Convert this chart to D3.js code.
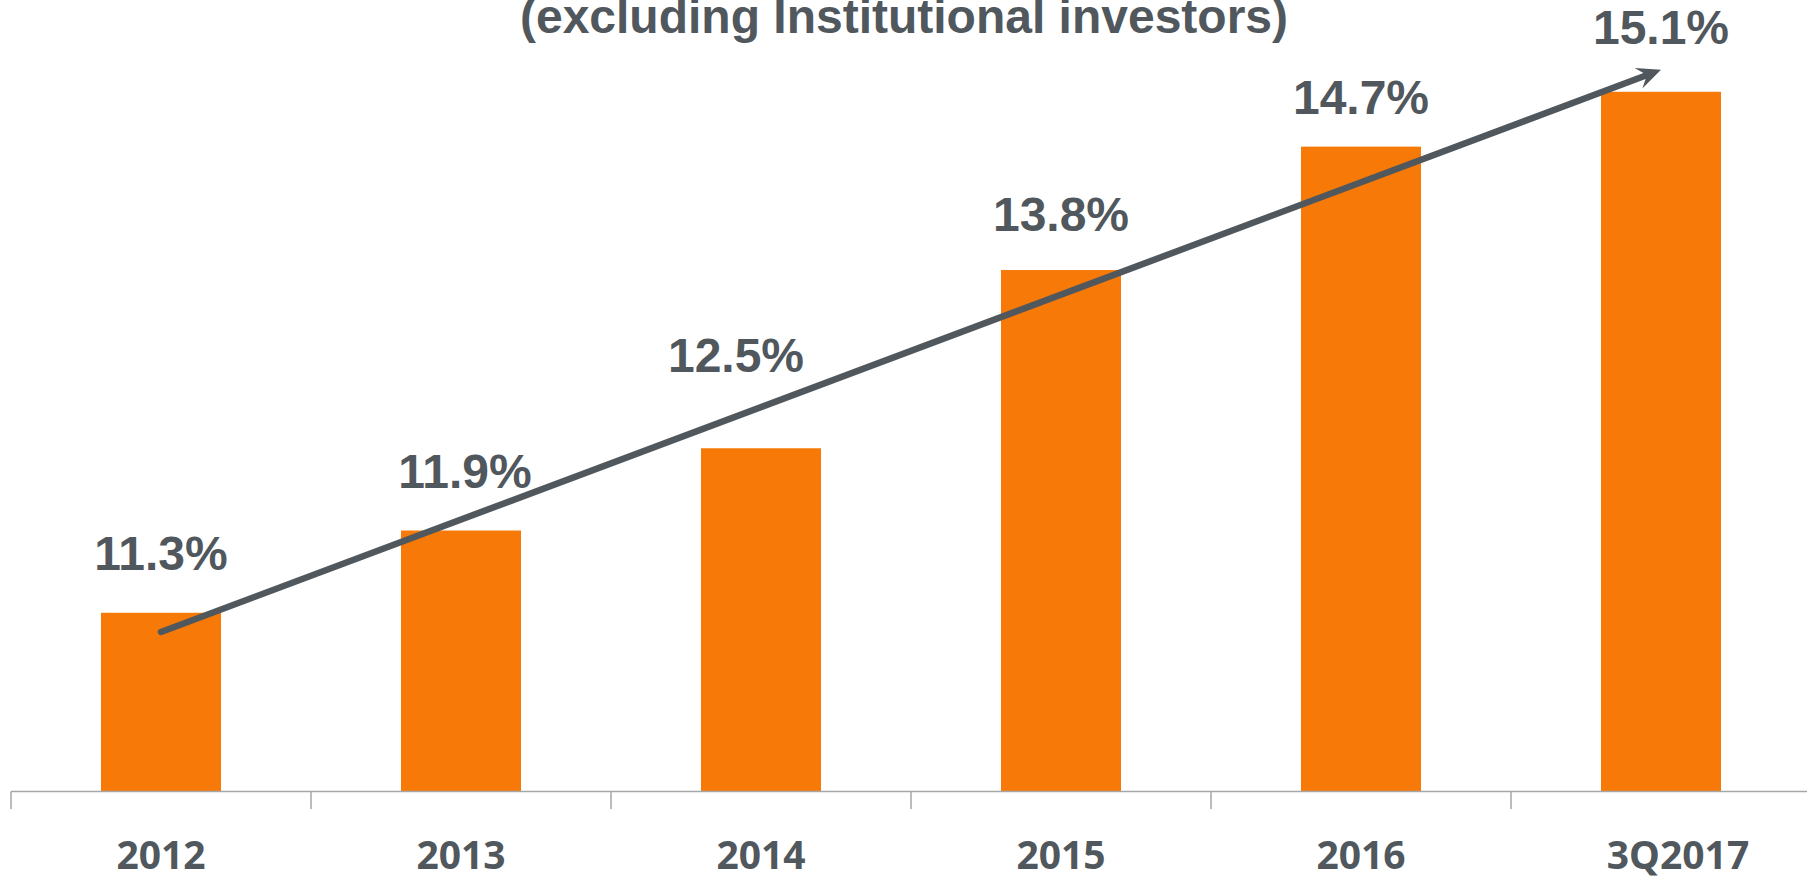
<!DOCTYPE html>
<html>
<head>
<meta charset="utf-8">
<script src="https://cdn.jsdelivr.net/npm/d3@7"></script>
<style>
  body { margin: 0; background: #fff; }
  .chart_svg { display: block; }
  .title { font-family: "Liberation Sans", Arial, sans-serif; font-weight: bold; fill: #50575d; }
  .value_label { font-family: "Liberation Sans", Arial, sans-serif; font-weight: bold; fill: #50575d; }
  .cat_label { font-family: "Noto Sans", "Open Sans", sans-serif; font-weight: bold; fill: #50575d; }
</style>
</head>
<body>
<div class="chart"></div>
<script>
// data
var categories = ["2012", "2013", "2014", "2015", "2016", "3Q2017"];
var shares = [11.3, 11.9, 12.5, 13.8, 14.7, 15.1];
var valueLabels = ["11.3%", "11.9%", "12.5%", "13.8%", "14.7%", "15.1%"];
var trend = [11.16, 15.26];   // arrow start (2012) and tip (3Q2017)
var titleText = "(excluding Institutional investors)";

// labels were placed by hand in the source: gap above bar and sideways nudge (px)
var labelGap = [43, 43, 76, 39, 33, 48];
var labelNudge = [0, 4, -25, 0, 0, 0];

var width = 1807, height = 876;
var orange = "#f77a08", grey = "#50575d";

var svg = d3.select(".chart").append("svg")
    .attr("class", "chart_svg")
    .attr("width", width)
    .attr("height", height);

var x = d3.scaleBand()
    .domain(categories)
    .range([11, 1811])
    .paddingInner(0.6)
    .paddingOuter(0.3);

var y = d3.scaleLinear()
    .domain([10, 16])
    .range([791, 791 - 6 * 137.1]);

var step = x.step();
function mid(c) { return x(c) + x.bandwidth() / 2; }

// bars
svg.append("g")
    .attr("class", "bars")
  .selectAll("rect")
  .data(categories)
  .enter().append("rect")
    .attr("x", function(d) { return x(d); })
    .attr("y", function(d, i) { return y(shares[i]); })
    .attr("width", x.bandwidth())
    .attr("height", function(d, i) { return y(10) - y(shares[i]); })
    .attr("fill", orange);

// category axis with ticks between the categories
var axis = svg.append("g").attr("class", "axis");
axis.append("line")
    .attr("x1", x.range()[0]).attr("x2", width)
    .attr("y1", y(10) + 0.5).attr("y2", y(10) + 0.5)
    .attr("stroke", "#a6a6a6")
    .attr("stroke-width", 1.5);

axis.selectAll(".tick")
  .data(categories)
  .enter().append("line")
    .attr("class", "tick")
    .attr("x1", function(d) { return mid(d) - step / 2; })
    .attr("x2", function(d) { return mid(d) - step / 2; })
    .attr("y1", y(10) + 0.5)
    .attr("y2", y(10) + 18)
    .attr("stroke", "#a6a6a6")
    .attr("stroke-width", 1.5);

axis.selectAll("text")
  .data(categories)
  .enter().append("text")
    .attr("class", "cat_label")
    .attr("x", function(d) { return mid(d); })
    .attr("dx", function(d, i) { return i == categories.length - 1 ? 17 : 0; })
    .attr("y", 869)
    .attr("text-anchor", "middle")
    .style("font-size", "39px")
    .text(function(d) { return d; });

// value labels
svg.append("g")
  .selectAll("text")
  .data(categories)
  .enter().append("text")
    .attr("class", "value_label")
    .attr("x", function(d, i) { return mid(d) + labelNudge[i]; })
    .attr("y", function(d, i) { return y(shares[i]) - labelGap[i]; })
    .attr("text-anchor", "middle")
    .style("font-size", "48px")
    .text(function(d, i) { return valueLabels[i]; });

// trend arrow
var x0 = mid(categories[0]), y0 = y(trend[0]);
var x1 = mid(categories[categories.length - 1]), y1 = y(trend[1]);
var len = Math.sqrt((x1 - x0) * (x1 - x0) + (y1 - y0) * (y1 - y0));
var ux = (x1 - x0) / len, uy = (y1 - y0) / len;
var angle = Math.atan2(y1 - y0, x1 - x0) * 180 / Math.PI;

svg.append("line")
    .attr("x1", x0).attr("y1", y0)
    .attr("x2", x1 - ux * 14).attr("y2", y1 - uy * 14)
    .attr("stroke", grey)
    .attr("stroke-width", 6.5)
    .attr("stroke-linecap", "round");

svg.append("path")
    .attr("d", "M0,0L-24,-11L-15,0L-24,11Z")
    .attr("transform", "translate(" + x1 + "," + y1 + ") rotate(" + angle + ")")
    .attr("fill", grey);

// title, cut at the top like the source
svg.append("text")
    .attr("class", "title")
    .attr("x", 904)
    .attr("y", 33)
    .attr("text-anchor", "middle")
    .style("font-size", "48px")
    .text(titleText);
</script>
</body>
</html>
